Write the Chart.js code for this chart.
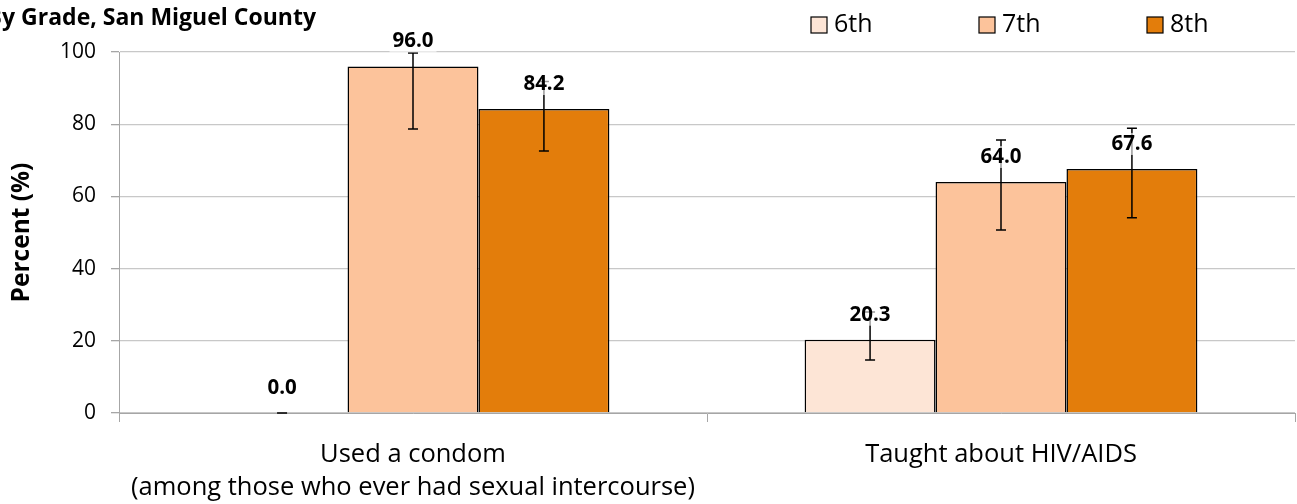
<!DOCTYPE html>
<html>
<head>
<meta charset="utf-8">
<script src="https://cdn.jsdelivr.net/npm/chart.js@4"></script>
<style>
html, body { margin: 0; padding: 0; background: #fff; }
#wrap { width: 1297px; height: 504px; position: relative; }
</style>
</head>
<body>
<div id="wrap"><canvas id="myChart"></canvas></div>
<script>
// data
const categories = [['Used a condom', '(among those who ever had sexual intercourse)'], 'Taught about HIV/AIDS'];
const grades = ['6th', '7th', '8th'];
const grade6 = [0.0, 20.3];
const grade7 = [96.0, 64.0];
const grade8 = [84.2, 67.6];
const low6 = [0.0, 14.7];
const high6 = [0.0, 28.0];
const low7 = [78.7, 50.7];
const high7 = [99.7, 75.6];
const low8 = [72.6, 54.1];
const high8 = [91.8, 78.9];
const yTicks = [0, 20, 40, 60, 80, 100];

const FONT = 'Open Sans';
const colors = ['rgb(253,229,214)', 'rgb(252,195,155)', 'rgb(227,125,11)'];

function makeSet(label, values, lo, hi, color) {
    return {
        label: label,
        data: values,
        errLow: lo,
        errHigh: hi,
        backgroundColor: color,
        borderColor: '#000',
        borderWidth: 1.5,
        borderSkipped: 'bottom',
        barPercentage: 1.0,
        categoryPercentage: 0.668
    };
}

// error bars + value labels
const extras = {
    id: 'extras',
    afterDatasetsDraw(chart) {
        const ctx = chart.ctx;
        const y = chart.scales.y;
        ctx.save();
        chart.data.datasets.forEach(function(ds, di) {
            const meta = chart.getDatasetMeta(di);
            meta.data.forEach(function(bar, i) {
                const yl = y.getPixelForValue(ds.errLow[i]);
                const yh = y.getPixelForValue(ds.errHigh[i]);
                ctx.strokeStyle = '#000';
                ctx.lineWidth = 1.5;
                ctx.beginPath();
                ctx.moveTo(bar.x, yl); ctx.lineTo(bar.x, yh);
                ctx.moveTo(bar.x - 5, yl); ctx.lineTo(bar.x + 5, yl);
                ctx.moveTo(bar.x - 5, yh); ctx.lineTo(bar.x + 5, yh);
                ctx.stroke();
            });
        });
        ctx.font = 'bold 20.5px ' + FONT;
        ctx.textAlign = 'center';
        ctx.textBaseline = 'middle';
        chart.data.datasets.forEach(function(ds, di) {
            const meta = chart.getDatasetMeta(di);
            meta.data.forEach(function(bar, i) {
                const txt = ds.data[i].toFixed(1);
                const ty = bar.y - 25;
                const w = ctx.measureText(txt).width;
                ctx.fillStyle = 'rgba(255,255,255,0.6)';
                ctx.fillRect(bar.x - w / 2 - 3, ty - 11, w + 6, 22);
                ctx.fillStyle = '#000';
                ctx.fillText(txt, bar.x, ty);
            });
        });
        ctx.restore();
    },
    afterDraw(chart) {
        const ctx = chart.ctx;
        ctx.save();
        // title, cut at the left edge like the original
        ctx.font = 'bold 23px ' + FONT;
        ctx.fillStyle = '#000';
        ctx.textAlign = 'right';
        ctx.textBaseline = 'middle';
        ctx.fillText('By Grade, San Miguel County', 316, 18);
        // legend
        ctx.font = '25px ' + FONT;
        ctx.textAlign = 'left';
        const lx = [811, 979, 1147];
        chart.data.datasets.forEach(function(ds, di) {
            ctx.fillStyle = ds.backgroundColor;
            ctx.fillRect(lx[di], 17, 16, 16);
            ctx.strokeStyle = '#000';
            ctx.lineWidth = 1.2;
            ctx.strokeRect(lx[di], 17, 16, 16);
            ctx.fillStyle = '#000';
            ctx.fillText(ds.label, lx[di] + 23, 25);
        });
        ctx.restore();
    }
};

const config = {
    type: 'bar',
    data: {
        labels: categories,
        datasets: [
            makeSet(grades[0], grade6, low6, high6, colors[0]),
            makeSet(grades[1], grade7, low7, high7, colors[1]),
            makeSet(grades[2], grade8, low8, high8, colors[2])
        ]
    },
    options: {
        responsive: true,
        maintainAspectRatio: false,
        animation: false,
        layout: { padding: { top: 52, right: 2, left: 0, bottom: 0 } },
        plugins: {
            legend: { display: false },
            tooltip: { enabled: false }
        },
        scales: {
            x: {
                grid: { display: true, offset: true, drawOnChartArea: false, drawTicks: true, tickLength: 9, color: '#a6a6a6', lineWidth: 1 },
                border: { color: '#a6a6a6', width: 1 },
                ticks: { color: '#000', font: { family: FONT, size: 25.5, lineHeight: 1.3 }, padding: 16, maxRotation: 0, autoSkip: false },
                afterFit: function(s) { s.height = 91; }
            },
            y: {
                min: 0,
                max: 100,
                afterBuildTicks: function(s) { s.ticks = yTicks.map(function(v) { return { value: v }; }); },
                grid: { color: '#c8c8c8', lineWidth: 1.3, tickLength: 8, tickColor: '#a6a6a6' },
                border: { color: '#a6a6a6', width: 1 },
                ticks: { color: '#000', font: { family: FONT, size: 21 }, padding: 15 },
                title: { display: true, text: 'Percent (%)', color: '#000', font: { family: FONT, size: 24.5, weight: 'bold' }, padding: { top: 7, bottom: 0 } },
                afterFit: function(s) { s.width = 119; }
            }
        }
    },
    plugins: [extras]
};

const myChart = new Chart(document.getElementById('myChart'), config);
</script>
</body>
</html>
